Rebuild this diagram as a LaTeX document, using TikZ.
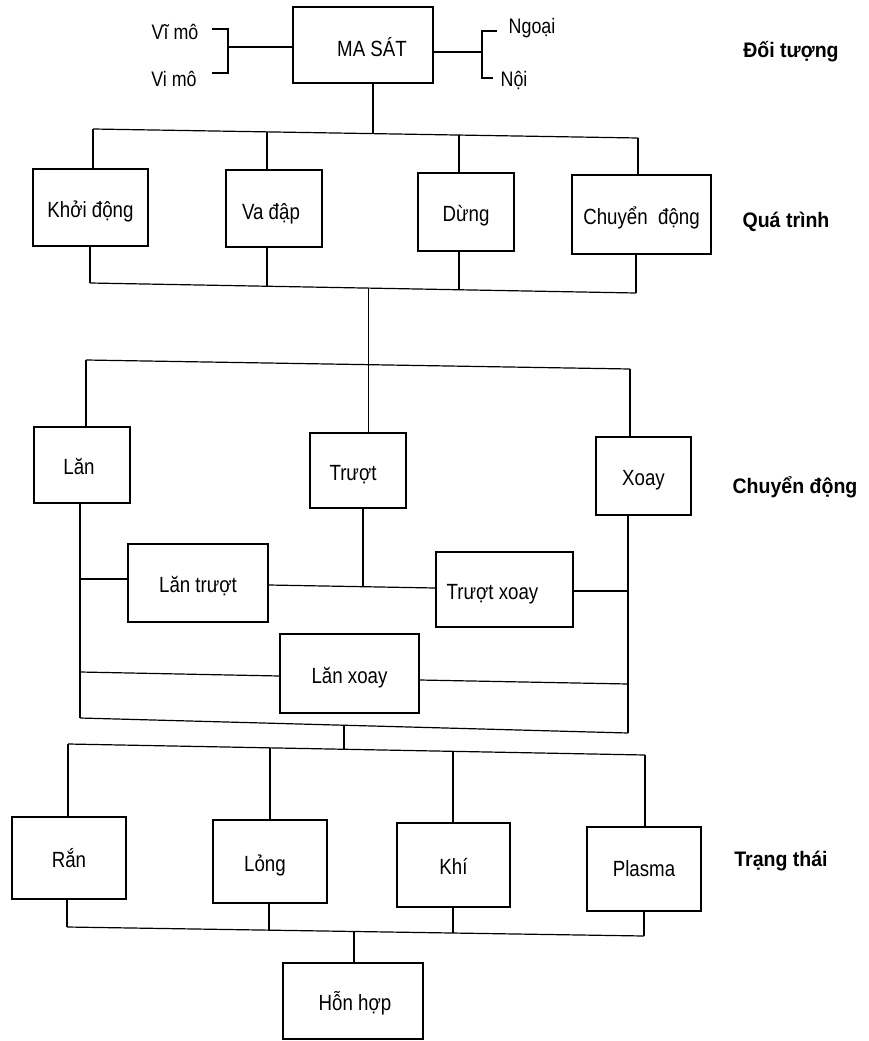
\documentclass[tikz,border=0pt]{standalone}
\usepackage{fontspec}
\setmainfont{Liberation Sans}[FakeStretch=0.85]
\newfontfamily\labelfont{Liberation Sans}[FakeStretch=0.93]
\newcommand\sh[3]{\raisebox{#2}[\height][\depth]{\makebox[0pt]{\hspace*{#1}\hspace*{#1}#3}}}
\begin{document}
\begin{tikzpicture}[x=1pt,y=-1pt,line width=1.2pt,
  box/.style={draw, inner sep=0pt, text height=21pt, text depth=2pt, font=\fontsize{22}{24}\selectfont},
  txt/.style={inner sep=0pt, font=\fontsize{21}{23}\selectfont},
  side/.style={inner sep=0pt, font=\labelfont\bfseries\fontsize{21}{23}\selectfont}]
\useasboundingbox (0,0) rectangle (869,1041);

% ---------- level 1 ----------
\node[box, minimum width=140pt, minimum height=76pt] (ms) at (363,45) {\sh{9pt}{-2pt}{MA SÁT}};
\node[txt] (vimo1) at (175,32) {Vĩ mô};
\node[txt] (vimo2) at (174,79) {Vi mô};
\node[txt] (ngoai) at (532,28) {Ngoại};
\node[txt] (noi) at (514,80) {Nội};
\node[side] (l1) at (791,52) {Đối tượng};

\coordinate (bl1) at (212,29);
\coordinate (bl2) at (212,73);
\coordinate (bk) at (228,47);
\draw (bl1) -| (bk) |- (bl2);
\draw (bk) -- (bk -| ms.west);
\coordinate (jr) at (482,52);
\coordinate (br1) at (497,31);
\coordinate (br2) at (493,78);
\draw (jr -| ms.east) -- (jr);
\draw (br1) -| (jr) |- (br2);

% ---------- level 2 ----------
\node[box, minimum width=115pt, minimum height=77pt] (kd) at (90.5,207.5) {Khởi động};
\node[box, minimum width=96pt, minimum height=77pt] (vd) at (274,208.5) {\sh{-3pt}{-1pt}{Va đập}};
\node[box, minimum width=96pt, minimum height=78pt] (dg) at (466,212) {Dừng};
\node[box, minimum width=139pt, minimum height=79pt] (cd) at (641.5,214.5) {Chuyển\ \ động};
\node[side] (l2) at (786,222) {Quá trình};

\coordinate (t1) at (93,129);
\coordinate (t2) at (267,131.9);
\coordinate (t3) at (373,133.6);
\coordinate (t4) at (459,135);
\coordinate (t5) at (638,138);
\draw (t1) -- (t5);
\draw (t3 |- ms.south) -- (t3);
\draw (t1) -- (t1 |- kd.north);
\draw (t2) -- (t2 |- vd.north);
\draw (t4) -- (t4 |- dg.north);
\draw (t5) -- (t5 |- cd.north);

\coordinate (u1) at (90,283);
\coordinate (u2) at (267,286.2);
\coordinate (u3) at (368.5,288.1);
\coordinate (u4) at (459,289.8);
\coordinate (u5) at (636,293);
\draw (u1) -- (u5);
\draw (u1 |- kd.south) -- (u1);
\draw (u2 |- vd.south) -- (u2);
\draw (u4 |- dg.south) -- (u4);
\draw (u5 |- cd.south) -- (u5);

% ---------- level 3 ----------
\node[box, minimum width=96pt, minimum height=76pt] (lan) at (82,465) {\sh{-3pt}{0pt}{Lăn}};
\node[box, minimum width=96pt, minimum height=75pt] (tr) at (358,470.5) {\sh{-5pt}{0pt}{Trượt}};
\node[box, minimum width=95pt, minimum height=78pt] (xo) at (643.5,476) {Xoay};
\node[box, minimum width=140pt, minimum height=78pt] (lt) at (198,583) {Lăn trượt};
\node[box, minimum width=137pt, minimum height=75pt] (tx) at (504.5,589.5) {\sh{-12pt}{0pt}{Trượt xoay}};
\node[box, minimum width=139pt, minimum height=79pt] (lx) at (349.5,673.5) {Lăn xoay};
\node[side] (l3) at (795,487) {Chuyển động};

\coordinate (v1) at (86,360);
\coordinate (v3) at (630,369);
\draw (v1) -- (v3);
\draw (v1) -- (v1 |- lan.north);
\draw (v3) -- (v3 |- xo.north);
\draw (u3) -- (u3 |- tr.north);

\coordinate (w1) at (80,718);
\coordinate (w2) at (344,725.2);
\coordinate (w3) at (628,733);
\draw (w1) -- (w3);
\draw (w1 |- lan.south) -- (w1);
\draw (w3 |- xo.south) -- (w3);

\coordinate (c1) at (80,579);
\draw (c1) -- (c1 -| lt.west);
\draw ([yshift=-2pt]lt.east) -- ([yshift=1.5pt]tx.west);
\coordinate (m3) at (363,586.7);
\draw (m3 |- tr.south) -- (m3);
\coordinate (c4) at (628,591);
\draw (c4 -| tx.east) -- (c4);
\coordinate (c2) at (80,672);
\draw (c2) -- ([yshift=-2.5pt]lx.west);
\coordinate (c3) at (628,684);
\draw ([yshift=-6.5pt]lx.east) -- (c3);

% ---------- level 4 ----------
\node[box, minimum width=114pt, minimum height=82pt] (ran) at (69,858) {Rắn};
\node[box, minimum width=114pt, minimum height=83pt] (lo) at (270,861.5) {\sh{-5pt}{0pt}{Lỏng}};
\node[box, minimum width=113pt, minimum height=84pt] (kh) at (453.5,865) {Khí};
\node[box, minimum width=114pt, minimum height=84pt] (pl) at (644,869) {\sh{0pt}{2pt}{Plasma}};
\node[box, minimum width=140pt, minimum height=76pt] (hh) at (353,1001) {\sh{2pt}{0pt}{Hỗn hợp}};
\node[side] (l4) at (781,861) {Trạng thái};

\coordinate (x1) at (68,744);
\coordinate (x2) at (270,747.8);
\coordinate (xm) at (344,749.3);
\coordinate (x3) at (453,751.3);
\coordinate (x4) at (645,755);
\draw (x1) -- (x4);
\draw (w2) -- (xm);
\draw (x1) -- (x1 |- ran.north);
\draw (x2) -- (x2 |- lo.north);
\draw (x3) -- (x3 |- kh.north);
\draw (x4) -- (x4 |- pl.north);

\coordinate (y1) at (67,927);
\coordinate (y2) at (269,930.2);
\coordinate (ym) at (354,931.5);
\coordinate (y3) at (453,933);
\coordinate (y4) at (644,936);
\draw (y1) -- (y4);
\draw (y1 |- ran.south) -- (y1);
\draw (y2 |- lo.south) -- (y2);
\draw (y3 |- kh.south) -- (y3);
\draw (y4 |- pl.south) -- (y4);
\draw (ym) -- (ym |- hh.north);
\end{tikzpicture}
\end{document}
